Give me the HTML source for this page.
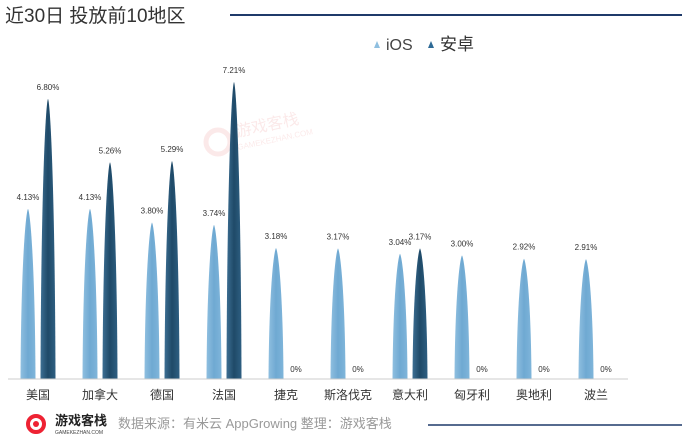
<!DOCTYPE html>
<html><head><meta charset="utf-8"><style>
body{margin:0;width:696px;height:440px;background:#fff;overflow:hidden;font-family:"Liberation Sans","Noto Sans CJK SC",sans-serif}
</style></head><body>
<svg width="696" height="440" xmlns="http://www.w3.org/2000/svg" font-family="Liberation Sans, Noto Sans CJK SC, sans-serif">
<defs>
<linearGradient id="gi" x1="0" x2="1"><stop offset="0" stop-color="#8fbfe0"/><stop offset="0.5" stop-color="#6fa9d2"/><stop offset="1" stop-color="#7fb5da"/></linearGradient>
<linearGradient id="ga" x1="0" x2="1"><stop offset="0" stop-color="#3d6f93"/><stop offset="0.5" stop-color="#1f4a68"/><stop offset="1" stop-color="#2e5f82"/></linearGradient>
</defs>
<text x="5" y="22" font-size="19" fill="#333">近30日 投放前10地区</text>
<line x1="230" y1="15" x2="682" y2="15" stroke="#1f3a6a" stroke-width="2"/>
<path d="M374 48 L377 41 L380 48Z" fill="#8fbfe0"/><text x="386" y="50" font-size="16" fill="#444">iOS</text>
<path d="M428 48 L431 41 L434 48Z" fill="#2e6a96"/><text x="440" y="50" font-size="17" fill="#333">安卓</text>
<g opacity="0.1">
<circle cx="218" cy="142" r="12" fill="none" stroke="#d33" stroke-width="5"/>
<text x="237" y="137" font-size="16" fill="#d33" transform="rotate(-12 237 137)">游戏客栈</text>
<text x="238" y="150" font-size="8" fill="#d33" transform="rotate(-12 238 150)">GAMEKEZHAN.COM</text>
</g>
<g id="bars"></g>
<line x1="8" y1="379" x2="628" y2="379" stroke="#ccc" stroke-width="1"/>
<g font-size="12" fill="#333" text-anchor="middle" id="labels"></g>
<g font-size="8" fill="#333" text-anchor="middle" id="vals"></g>
<circle cx="36" cy="424" r="8" fill="none" stroke="#e23" stroke-width="4"/>
<circle cx="36" cy="424" r="3" fill="#e23"/>
<text x="55" y="425" font-size="13" font-weight="bold" fill="#222">游戏客栈</text>
<text x="55" y="434" font-size="5" fill="#444">GAMEKEZHAN.COM</text>
<text x="118" y="428" font-size="13" fill="#999">数据来源：有米云 AppGrowing  整理：游戏客栈</text>
<line x1="428" y1="425" x2="682" y2="425" stroke="#1f3a6a" stroke-width="1.5"/>
</svg>
<script>
var names=["美国","加拿大","德国","法国","捷克","斯洛伐克","意大利","匈牙利","奥地利","波兰"];
var ios=[4.13,4.13,3.80,3.74,3.18,3.17,3.04,3.00,2.92,2.91];
var an=[6.80,5.26,5.29,7.21,0,0,3.17,0,0,0];
var ns="http://www.w3.org/2000/svg",B=379,k=41.2;
function spike(x,v,f){var t=B-v*k;var p=document.createElementNS(ns,"path");
p.setAttribute("d","M"+(x-7.5)+" "+B+" C"+(x-7)+" "+(t+(B-t)*0.35)+" "+(x-2.5)+" "+(t+4)+" "+x+" "+t+" C"+(x+2.5)+" "+(t+4)+" "+(x+7)+" "+(t+(B-t)*0.35)+" "+(x+7.5)+" "+B+"Z");
p.setAttribute("fill",f);document.getElementById("bars").appendChild(p);}
function txt(g,x,y,s){var t=document.createElementNS(ns,"text");t.setAttribute("x",x);t.setAttribute("y",y);t.textContent=s;document.getElementById(g).appendChild(t);}
for(var i=0;i<10;i++){var c=38+i*62.0;
spike(c-10,ios[i],"url(#gi)");
if(an[i]>0)spike(c+10,an[i],"url(#ga)");
txt("vals",c-10,B-ios[i]*k-9,ios[i].toFixed(2)+"%");
txt("vals",c+10,an[i]>0?B-an[i]*k-9:372,an[i]>0?an[i].toFixed(2)+"%":"0%");
txt("labels",c,399,names[i]);}
</script>
</body></html>
